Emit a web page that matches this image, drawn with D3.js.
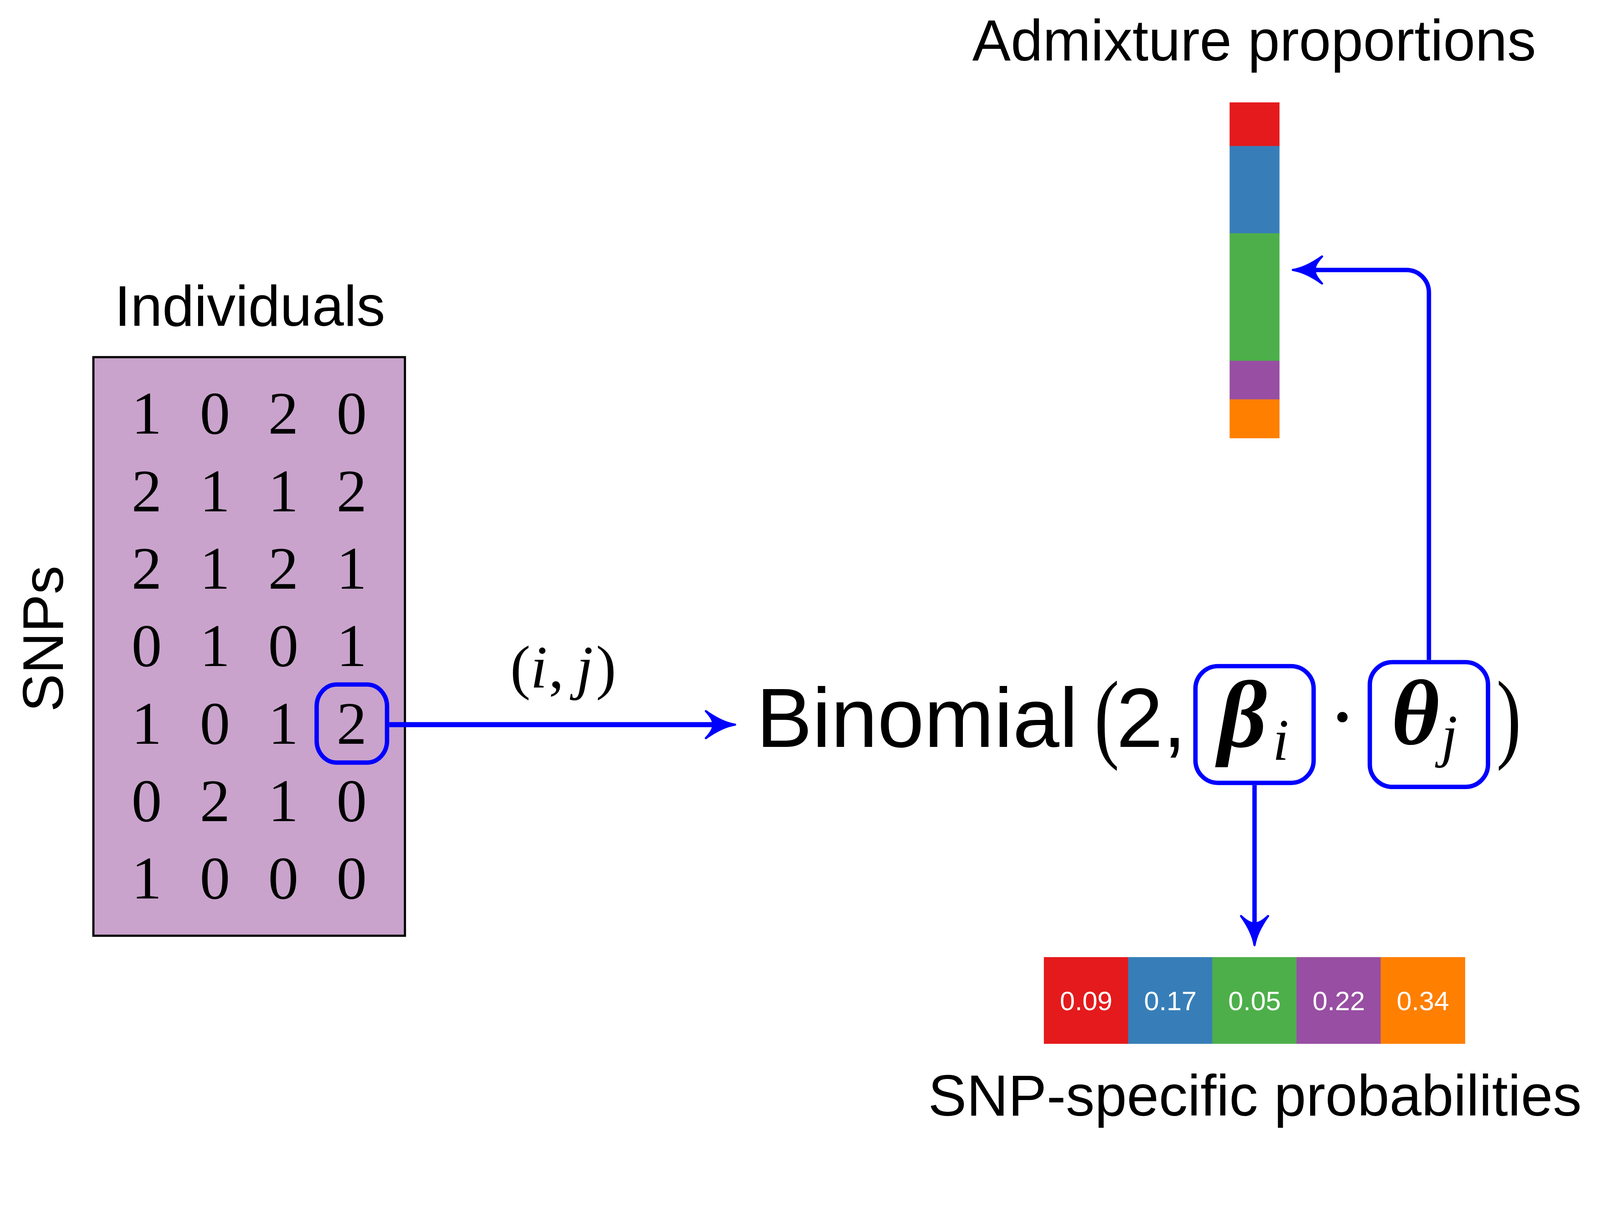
<!DOCTYPE html>
<html>
<head>
<meta charset="utf-8">
<script src="https://cdn.jsdelivr.net/npm/d3@7"></script>
<style>
  html, body { margin: 0; padding: 0; background: #ffffff; overflow: hidden; }
  #figure svg { display: block; width: 100vw; height: 100vh; }
</style>
</head>
<body>
<div id="figure"></div>
<script>
// genotype matrix, rows = SNPs, columns = individuals
var genotypes = [
  [1, 0, 2, 0],
  [2, 1, 1, 2],
  [2, 1, 2, 1],
  [0, 1, 0, 1],
  [1, 0, 1, 2],
  [0, 2, 1, 0],
  [1, 0, 0, 0]
];
var selectedRow = 4;   // SNP j
var selectedCol = 3;   // individual i

// ancestry components
var components = ["K1", "K2", "K3", "K4", "K5"];
var componentColors = ["#e41a1c", "#377eb8", "#4daf4a", "#984ea3", "#ff7f00"];
var admixture = [0.13, 0.26, 0.38, 0.115, 0.115];
var snpProbs = [0.09, 0.17, 0.05, 0.22, 0.34];

var titleAdmix = "Admixture proportions";
var titleProbs = "SNP-specific probabilities";
var titleCols = "Individuals";
var titleRows = "SNPs";

var W = 4386, H = 3141;
var sans = "'Liberation Sans', Arial, Helvetica, sans-serif";
var serif = "'Liberation Serif', 'Times New Roman', serif";
var blue = "#0000ff";

// viewBox so the whole figure fits the window whatever its css size
var svg = d3.select("#figure").append("svg")
    .attr("viewBox", "0 0 " + W + " " + H)
    .attr("preserveAspectRatio", "xMidYMin meet");

svg.append("rect").attr("width", W).attr("height", H).attr("fill", "#ffffff");

// curved latex-style arrow head, tip at (x,y), pointing at angle (deg)
function arrowHead(x, y, angle) {
    var L = 80, h = 37;
    var p = d3.path();
    p.moveTo(0, 0);
    p.quadraticCurveTo(-0.45 * L, -0.15 * h, -L, -h);
    p.quadraticCurveTo(-0.72 * L, -0.35 * h, -0.76 * L, 0);
    p.quadraticCurveTo(-0.72 * L, 0.35 * h, -L, h);
    p.quadraticCurveTo(-0.45 * L, 0.15 * h, 0, 0);
    p.closePath();
    svg.append("path")
        .attr("d", p.toString())
        .attr("transform", "translate(" + x + "," + y + ") rotate(" + angle + ")")
        .attr("fill", blue)
        .attr("stroke", blue)
        .attr("stroke-width", 6)
        .attr("stroke-linejoin", "round");
}

// ---------- genotype matrix ----------
var colX = d3.scalePoint().domain(d3.range(genotypes[0].length)).range([402, 964]);
var rowY = d3.scalePoint().domain(d3.range(genotypes.length)).range([1189, 2463]);

svg.append("rect")
    .attr("x", 256).attr("y", 979)
    .attr("width", 854).attr("height", 1586)
    .attr("fill", "#c9a3cc")
    .attr("stroke", "#000000")
    .attr("stroke-width", 6);

var rows = svg.selectAll(".row")
    .data(genotypes)
    .enter()
    .append("g")
    .attr("class", "row");

rows.selectAll("text")
    .data(function (d, r) { return d.map(function (v, c) { return {v: v, r: r, c: c}; }); })
    .enter()
    .append("text")
    .attr("x", function (d) { return colX(d.c); })
    .attr("y", function (d) { return rowY(d.r); })
    .attr("text-anchor", "middle")
    .style("font-family", serif)
    .style("font-size", "166px")
    .attr("fill", "#000000")
    .text(function (d) { return d.v; });

svg.append("text")
    .attr("x", 685).attr("y", 893)
    .attr("text-anchor", "middle")
    .style("font-family", sans).style("font-size", "157px")
    .text(titleCols);

svg.append("text")
    .attr("transform", "translate(172,1751) rotate(-90)")
    .attr("text-anchor", "middle")
    .style("font-family", sans).style("font-size", "157px")
    .text(titleRows);

// highlighted cell
var cellCx = colX(selectedCol), cellCy = rowY(selectedRow) - 55;
svg.append("rect")
    .attr("x", cellCx - 96).attr("y", cellCy - 107)
    .attr("width", 193).attr("height", 214)
    .attr("rx", 55).attr("ry", 60)
    .attr("fill", "none")
    .attr("stroke", blue)
    .attr("stroke-width", 12);

// arrow (i,j) -> Binomial
var arrowY = cellCy + 3;
svg.append("line")
    .attr("x1", cellCx + 103).attr("y1", arrowY)
    .attr("x2", 1965).attr("y2", arrowY)
    .attr("stroke", blue).attr("stroke-width", 14);
arrowHead(2015, arrowY, 0);

var ij = svg.append("text")
    .attr("x", 1544).attr("y", 1885)
    .attr("text-anchor", "middle")
    .style("font-family", serif).style("font-size", "166px");
ij.append("tspan").text("(");
ij.append("tspan").style("font-style", "italic").text("i");
ij.append("tspan").attr("dx", 4).text(",");
ij.append("tspan").attr("dx", 34).style("font-style", "italic").text("j");
ij.append("tspan").attr("dx", 8).text(")");

// ---------- Binomial formula ----------
svg.append("text")
    .attr("x", 2073).attr("y", 2047)
    .style("font-family", sans).style("font-size", "230px")
    .text("Binomial");

svg.append("text")
    .attr("x", 3034).attr("y", 2055)
    .attr("text-anchor", "middle")
    .attr("transform", "translate(3034,0) scale(0.75,1) translate(-3034,0)")
    .style("font-family", serif).style("font-size", "273px")
    .text("(");

svg.append("text")
    .attr("x", 3060).attr("y", 2047)
    .style("font-family", sans).style("font-size", "230px")
    .text("2,");

svg.append("text")
    .attr("x", 3406).attr("y", 2047)
    .attr("text-anchor", "middle")
    .style("font-family", serif).style("font-size", "262px")
    .style("font-style", "italic").style("font-weight", "bold")
    .text("β");
svg.append("text")
    .attr("x", 3511).attr("y", 2083)
    .attr("text-anchor", "middle")
    .style("font-family", serif).style("font-size", "160px")
    .style("font-style", "italic")
    .text("i");

svg.append("text")
    .attr("x", 3680).attr("y", 2045)
    .attr("text-anchor", "middle")
    .style("font-family", serif).style("font-size", "240px")
    .text("·");

svg.append("text")
    .attr("x", 3880).attr("y", 2040)
    .attr("text-anchor", "middle")
    .style("font-family", serif).style("font-size", "255px")
    .style("font-style", "italic").style("font-weight", "bold")
    .text("θ");
svg.append("text")
    .attr("x", 3973).attr("y", 2071)
    .attr("text-anchor", "middle")
    .style("font-family", serif).style("font-size", "160px")
    .style("font-style", "italic")
    .text("j");

svg.append("text")
    .attr("x", 4136).attr("y", 2055)
    .attr("text-anchor", "middle")
    .attr("transform", "translate(4136,0) scale(0.75,1) translate(-4136,0)")
    .style("font-family", serif).style("font-size", "273px")
    .text(")");

// boxes around beta_i and theta_j
var betaBox = {x: 3277, y: 1826, w: 324, h: 320};
var thetaBox = {x: 3755, y: 1815, w: 324, h: 342};
[betaBox, thetaBox].forEach(function (b) {
    svg.append("rect")
        .attr("x", b.x).attr("y", b.y)
        .attr("width", b.w).attr("height", b.h)
        .attr("rx", 62).attr("ry", 62)
        .attr("fill", "none")
        .attr("stroke", blue)
        .attr("stroke-width", 12);
});

// ---------- admixture proportions bar ----------
var admY = d3.scaleLinear().domain([0, 1]).range([281, 1201]);
var admStack = admixture.map(function (v, i) {
    var start = d3.sum(admixture.slice(0, i));
    return {k: components[i], y0: start, y1: start + v, color: componentColors[i]};
});

svg.append("g").selectAll("rect")
    .data(admStack)
    .enter()
    .append("rect")
    .attr("x", 3371)
    .attr("width", 136)
    .attr("y", function (d) { return admY(d.y0); })
    .attr("height", function (d) { return admY(d.y1) - admY(d.y0); })
    .attr("fill", function (d) { return d.color; })
    .attr("stroke", function (d) { return d.color; })
    .attr("stroke-width", 0.8);

svg.append("text")
    .attr("x", 3438).attr("y", 166)
    .attr("text-anchor", "middle")
    .style("font-family", sans).style("font-size", "158px")
    .text(titleAdmix);

// theta_j -> admixture arrow
var up = d3.path();
var ux = thetaBox.x + thetaBox.w / 2, uy = 740;
up.moveTo(ux, thetaBox.y - 6);
up.arcTo(ux, uy, ux - 200, uy, 62);
up.lineTo(3600, uy);
svg.append("path")
    .attr("d", up.toString())
    .attr("fill", "none")
    .attr("stroke", blue)
    .attr("stroke-width", 12);
arrowHead(3544, uy, 180);

// ---------- SNP-specific probabilities ----------
var probX = d3.scaleBand().domain(d3.range(snpProbs.length)).range([2862, 4016]);
var fmt = d3.format(".2f");

var cells = svg.append("g").selectAll("g")
    .data(snpProbs)
    .enter()
    .append("g");

cells.append("rect")
    .attr("x", function (d, i) { return probX(i); })
    .attr("y", 2624)
    .attr("width", probX.bandwidth())
    .attr("height", 237)
    .attr("fill", function (d, i) { return componentColors[i]; })
    .attr("stroke", function (d, i) { return componentColors[i]; })
    .attr("stroke-width", 0.8);

cells.append("text")
    .attr("x", function (d, i) { return probX(i) + probX.bandwidth() / 2; })
    .attr("y", 2769)
    .attr("text-anchor", "middle")
    .attr("fill", "#ffffff")
    .style("font-family", sans).style("font-size", "74px")
    .text(function (d) { return fmt(d); });

// beta_i -> probabilities arrow
var bx = betaBox.x + betaBox.w / 2;
svg.append("line")
    .attr("x1", bx).attr("y1", betaBox.y + betaBox.h + 6)
    .attr("x2", bx).attr("y2", 2540)
    .attr("stroke", blue).attr("stroke-width", 12);
arrowHead(bx, 2591, 90);

svg.append("text")
    .attr("x", 3440).attr("y", 3058)
    .attr("text-anchor", "middle")
    .style("font-family", sans).style("font-size", "158px")
    .text(titleProbs);
</script>
</body>
</html>
